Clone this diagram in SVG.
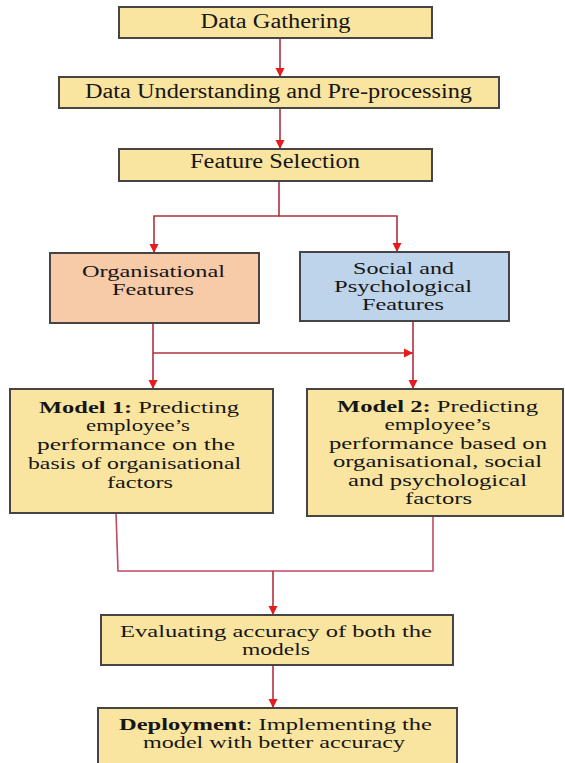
<svg xmlns="http://www.w3.org/2000/svg" width="565" height="763" viewBox="0 0 565 763">
  <defs>
    <marker id="arrow" viewBox="0 0 10 10" refX="10" refY="5" markerUnits="userSpaceOnUse" markerWidth="9" markerHeight="13" orient="auto">
      <path d="M0,0 L10,5 L0,10 z" fill="#e41c1c"/>
    </marker>
    <style>
      .box { stroke: #454545; stroke-width: 2; }
      .yellow { fill: #fae5a0; }
      .peach { fill: #f7caa8; }
      .blue { fill: #bed4ea; }
      text { font-family: "Liberation Serif", "Times New Roman", serif; fill: #161616; text-anchor: middle; }
      .big { font-size: 20px; }
      .small { font-size: 16.5px; }
      .b { font-weight: bold; }
      .link { fill: none; stroke: #b0303c; stroke-width: 1.6; }
      .join { fill: none; stroke: #c24a64; stroke-width: 1.6; }
    </style>
  </defs>

  <rect width="565" height="763" fill="#ffffff"/>

  <!-- connectors -->
  <g id="connectors">
    <path class="link" d="M280 38 V77" marker-end="url(#arrow)"/>
    <path class="link" d="M280 108 V149" marker-end="url(#arrow)"/>
    <path class="link" d="M279 181 V216 H154 V253" marker-end="url(#arrow)"/>
    <path class="link" d="M279 216 H397 V252" marker-end="url(#arrow)"/>
    <path class="link" d="M153 323 V389" marker-end="url(#arrow)"/>
    <path class="link" d="M153 353 H413" marker-end="url(#arrow)"/>
    <path class="link" d="M413 321 V389" marker-end="url(#arrow)"/>
    <path class="join" d="M116 513 L118 571 H433 V516"/>
    <path class="link" d="M273 571 V615" marker-end="url(#arrow)"/>
    <path class="link" d="M273 665 V708" marker-end="url(#arrow)"/>
  </g>

  <g id="data-gathering">
    <rect class="box yellow" x="119" y="7" width="313" height="31"/>
    <text class="big" x="275.5" y="28" textLength="150" lengthAdjust="spacingAndGlyphs">Data Gathering</text>
  </g>

  <g id="data-understanding">
    <rect class="box yellow" x="59" y="77" width="440" height="31"/>
    <text class="big" x="278.5" y="98" textLength="387" lengthAdjust="spacingAndGlyphs">Data Understanding and Pre-processing</text>
  </g>

  <g id="feature-selection">
    <rect class="box yellow" x="119" y="149" width="313" height="32"/>
    <text class="big" x="275" y="168" textLength="170" lengthAdjust="spacingAndGlyphs">Feature Selection</text>
  </g>

  <g id="organisational-features">
    <rect class="box peach" x="50" y="253" width="209" height="70"/>
    <text class="small" x="153.5" y="277" textLength="143" lengthAdjust="spacingAndGlyphs">Organisational</text>
    <text class="small" x="153" y="295" textLength="82" lengthAdjust="spacingAndGlyphs">Features</text>
  </g>

  <g id="social-features">
    <rect class="box blue" x="300" y="252" width="209" height="69"/>
    <text class="small" x="403.5" y="274" textLength="101" lengthAdjust="spacingAndGlyphs">Social and</text>
    <text class="small" x="403" y="292" textLength="138" lengthAdjust="spacingAndGlyphs">Psychological</text>
    <text class="small" x="403" y="310" textLength="82" lengthAdjust="spacingAndGlyphs">Features</text>
  </g>

  <g id="model-1">
    <rect class="box yellow" x="10" y="389" width="263" height="124"/>
    <text class="small" x="139" y="413" textLength="200" lengthAdjust="spacingAndGlyphs"><tspan class="b">Model 1:</tspan> Predicting</text>
    <text class="small" x="138" y="431" textLength="104" lengthAdjust="spacingAndGlyphs">employee’s</text>
    <text class="small" x="136" y="450" textLength="198" lengthAdjust="spacingAndGlyphs">performance on the</text>
    <text class="small" x="134.5" y="469" textLength="213" lengthAdjust="spacingAndGlyphs">basis of organisational</text>
    <text class="small" x="140" y="488" textLength="66" lengthAdjust="spacingAndGlyphs">factors</text>
  </g>

  <g id="model-2">
    <rect class="box yellow" x="307" y="389" width="256" height="127"/>
    <text class="small" x="437.5" y="412" textLength="201" lengthAdjust="spacingAndGlyphs"><tspan class="b">Model 2:</tspan> Predicting</text>
    <text class="small" x="437.5" y="430" textLength="106" lengthAdjust="spacingAndGlyphs">employee’s</text>
    <text class="small" x="438" y="449" textLength="218" lengthAdjust="spacingAndGlyphs">performance based on</text>
    <text class="small" x="437.5" y="467" textLength="209" lengthAdjust="spacingAndGlyphs">organisational, social</text>
    <text class="small" x="437.5" y="486" textLength="179" lengthAdjust="spacingAndGlyphs">and psychological</text>
    <text class="small" x="438.5" y="504" textLength="67" lengthAdjust="spacingAndGlyphs">factors</text>
  </g>

  <g id="evaluation">
    <rect class="box yellow" x="101" y="615" width="352" height="50"/>
    <text class="small" x="276" y="637" textLength="312" lengthAdjust="spacingAndGlyphs">Evaluating accuracy of both the</text>
    <text class="small" x="276" y="655" textLength="68" lengthAdjust="spacingAndGlyphs">models</text>
  </g>

  <g id="deployment">
    <rect class="box yellow" x="98" y="708" width="359" height="60"/>
    <text class="small" x="275.5" y="730" textLength="313" lengthAdjust="spacingAndGlyphs"><tspan class="b">Deployment</tspan>: Implementing the</text>
    <text class="small" x="274" y="748" textLength="262" lengthAdjust="spacingAndGlyphs">model with better accuracy</text>
  </g>
</svg>
